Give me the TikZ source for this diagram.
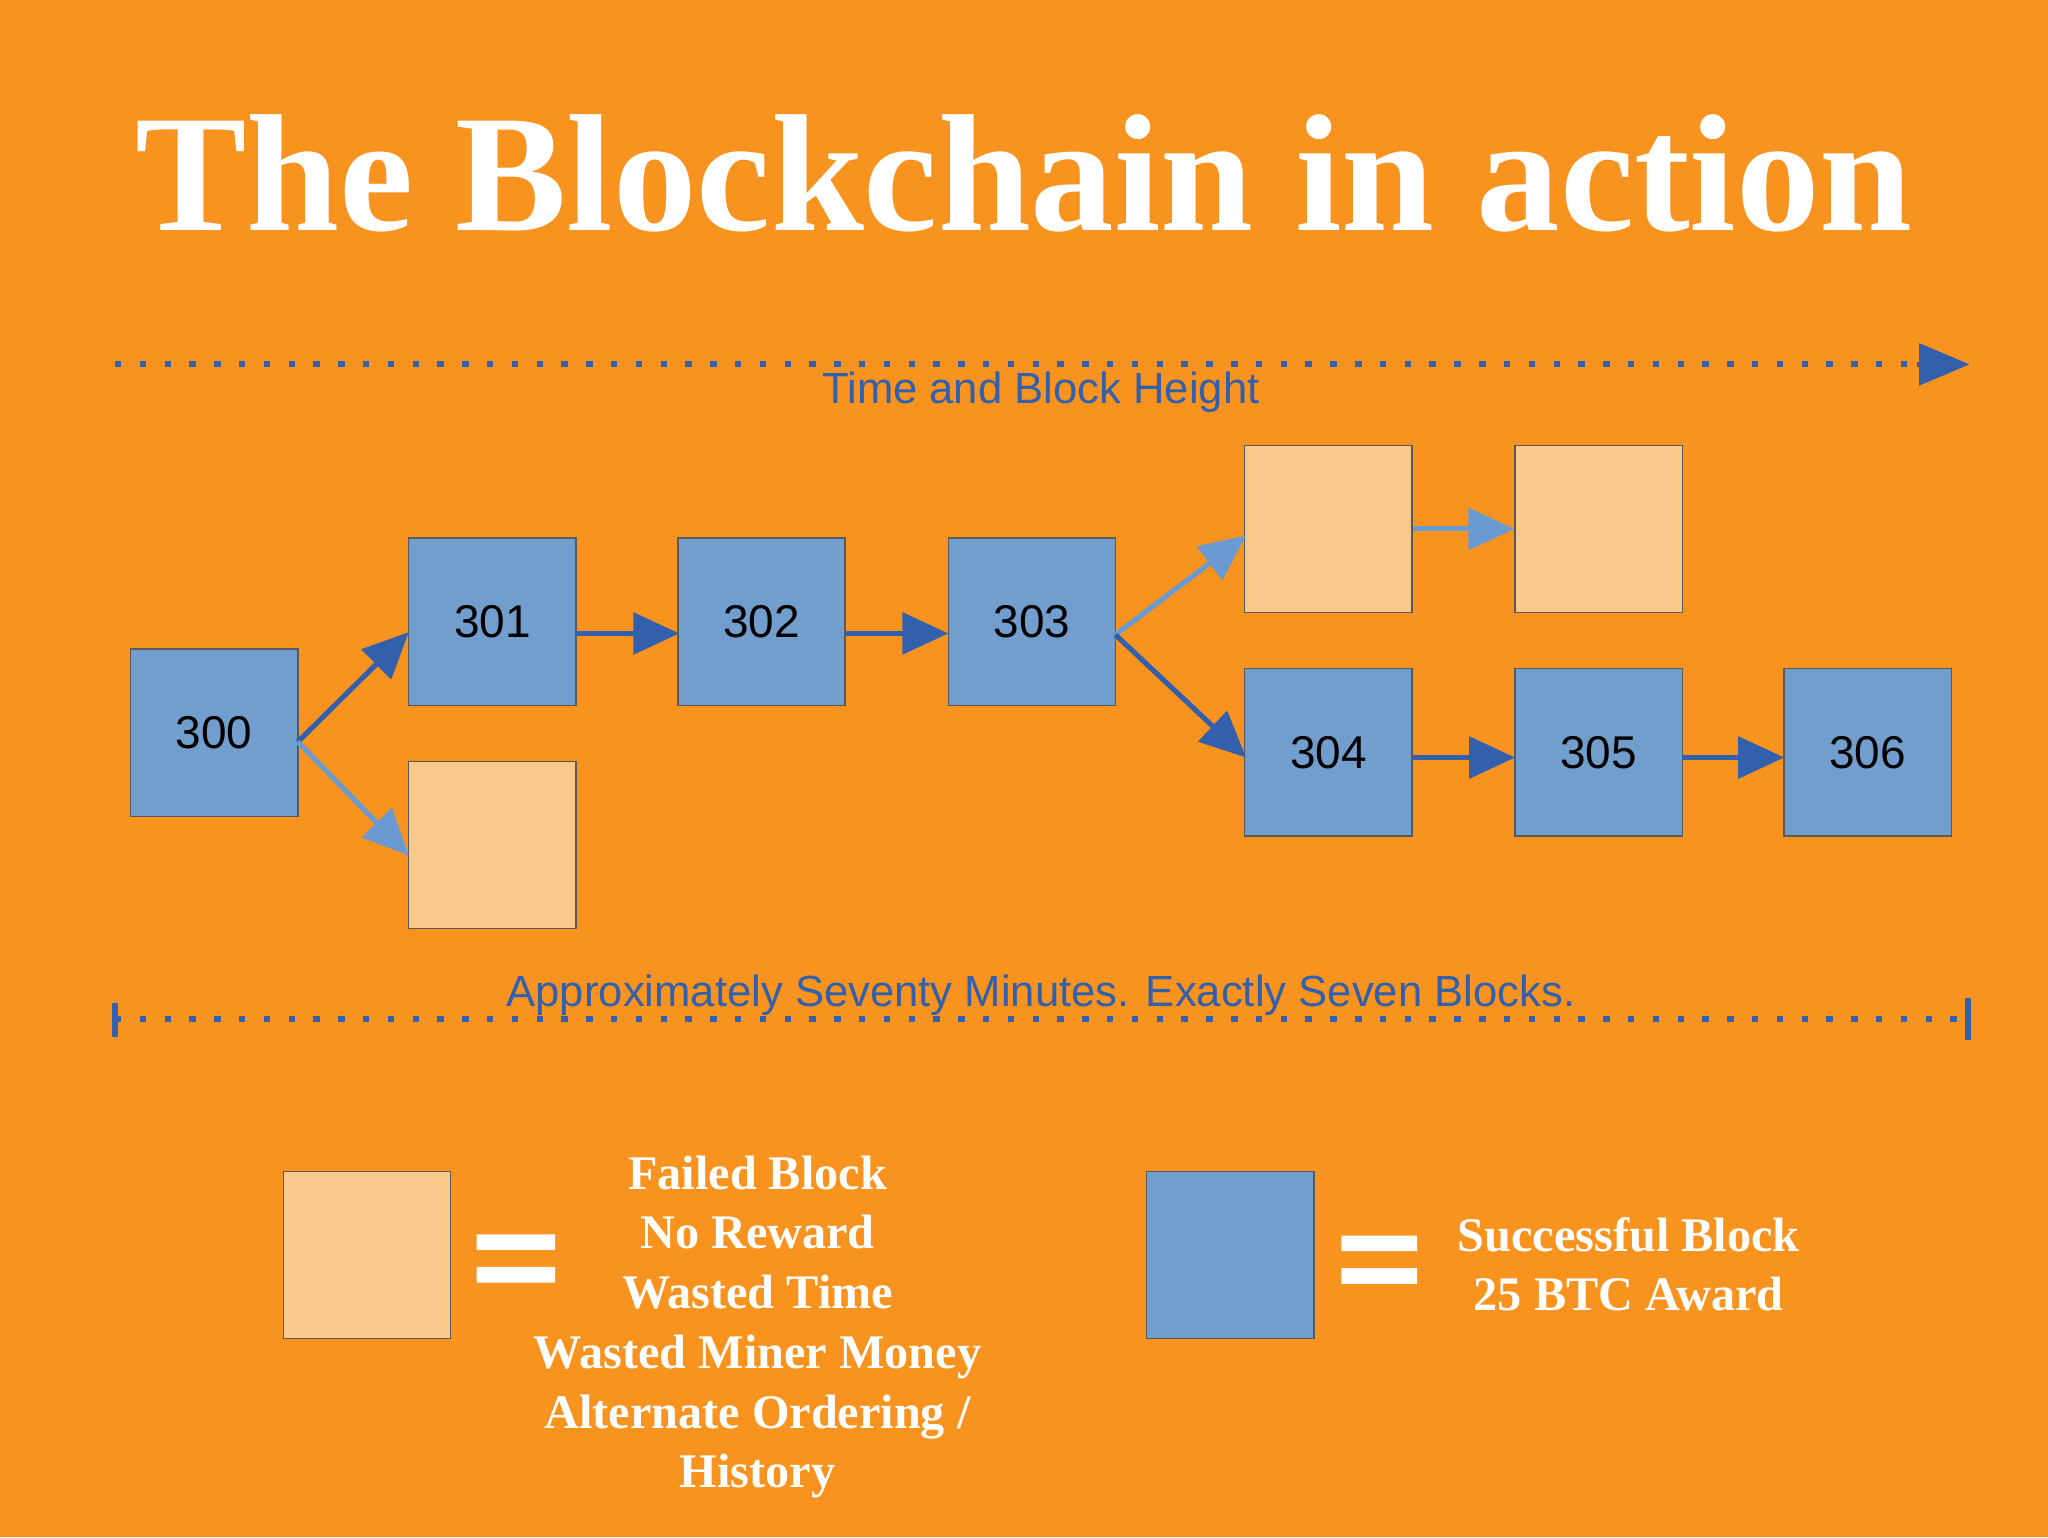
\documentclass[tikz,border=0pt]{standalone}
\usepackage{fontspec}
\setmainfont{Liberation Sans}
\newfontfamily\heavy{Liberation Serif}
\usetikzlibrary{arrows.meta}
\definecolor{bg}{RGB}{247,147,30}
\definecolor{blk}{RGB}{114,158,206}
\definecolor{fail}{RGB}{249,201,140}
\definecolor{dark}{RGB}{50,96,172}
\definecolor{light}{RGB}{106,154,210}
\begin{document}
\begin{tikzpicture}[x=0.01cm,y=-0.01cm,
 good/.style={draw=gray!70!black,line width=0.3pt,fill=blk,minimum size=1.28cm,inner sep=0,font=\fontsize{10}{10}\selectfont},
 bad/.style={good,fill=fail},
 darr/.style={draw=dark,line width=1.1pt,-{Triangle[length=10pt,width=9pt]}},
 larr/.style={draw=light,line width=1.1pt,-{Triangle[length=10pt,width=9pt]}},
 lab/.style={text=dark,font=\fontsize{9.5}{9.5}\selectfont},
 leg/.style={text=white,font=\heavy\bfseries\fontsize{10.5}{13}\selectfont},
 dots/.style={draw=dark,line width=1.3pt,dash pattern=on 1.4pt off 4pt}]
\fill[bg] (0,0) rectangle (1568,1177);
\useasboundingbox (0,0) rectangle (1568,1177);
\node[text=white,inner sep=0] (title) at (784,133) {\resizebox{13.6cm}{!}{\heavy\bfseries The Blockchain in action}};
% time line
\coordinate (t0) at (88,279); \coordinate (t1) at (1508,279);
\draw[dots] (t0) -- (1470,279);
\draw[dark,line width=1pt,-{Triangle[length=11pt,width=9pt]}] (1468,279) -- (t1);
\node[lab] (tl) at (797,300) {Time and Block Height};
% blocks
\node[good] (b300) at (164,561) {300};
\node[good] (b301) at (377,476) {301};
\node[bad] (f1) at (377,647) {};
\node[good] (b302) at (583,476) {302};
\node[good] (b303) at (790,476) {303};
\node[bad] (f2) at (1017,405) {};
\node[bad] (f3) at (1224,405) {};
\node[good] (b304) at (1017,576) {304};
\node[good] (b305) at (1224,576) {305};
\node[good] (b306) at (1430,576) {306};
\coordinate (o300) at (228,568);
\coordinate (o303) at (854,486);
\draw[darr] (o300) -- (313,484);
\draw[larr] (o300) -- (313,655);
\draw[darr] (441,485) -- (520,485);
\draw[darr] (647,485) -- (726,485);
\draw[larr] (o303) -- (954,410);
\draw[darr] (o303) -- (954,580);
\draw[larr] (f2) -- (f3);
\draw[darr] (1082,580) -- (1160,580);
\draw[darr] (1288,580) -- (1366,580);
% bottom line
\coordinate (s0) at (88,780); \coordinate (s1) at (1507,780);
\draw[dots] (s0) -- (s1);
\draw[dark,line width=1.3pt] (88,768) -- (88,794) (1507,764) -- (1507,796);
\node[lab] (sl) at (797,762) {Approximately Seventy Minutes. Exactly Seven Blocks.};
% legend
\node[bad] (lf) at (281,961) {};
\node[good] (lg) at (942,961) {};
\fill[white] (365,945) rectangle (425,957) (365,970) rectangle (425,982);
\fill[white] (1027,946) rectangle (1085,958) (1027,971) rectangle (1085,983);
\node[leg,align=center] (lt1) at (580,1016) {Failed Block\\No Reward\\Wasted Time\\Wasted Miner Money\\Alternate Ordering /\\History};
\node[leg,align=center] (lt2) at (1247,968) {Successful Block\\25 BTC Award};
\end{tikzpicture}
\end{document}
